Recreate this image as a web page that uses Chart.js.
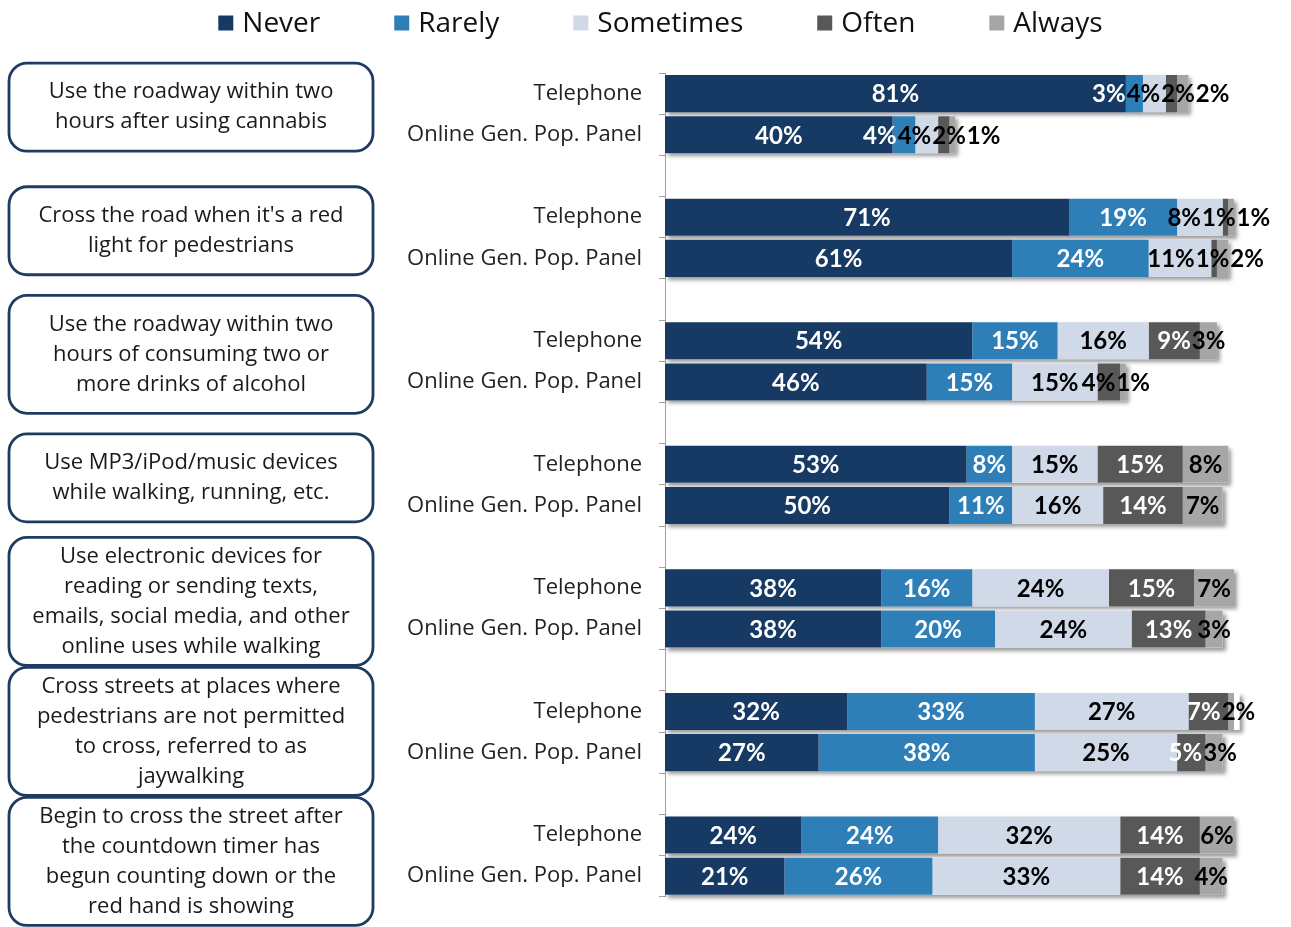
<!DOCTYPE html>
<html>
<head>
<meta charset="utf-8">
<script src="https://cdn.jsdelivr.net/npm/chart.js@4.4.1/dist/chart.umd.min.js"></script>
<style>
    html, body { margin: 0; padding: 0; background: #fff; }
    #wrap { position: relative; width: 1291px; height: 927px; }
</style>
</head>
<body>
<div id="wrap"><canvas id="chart"></canvas></div>
<script>
// Fragen (links in den Kästen)
const questions = [
    ['Use the roadway within two', 'hours after using cannabis'],
    ["Cross the road when it's a red", 'light for pedestrians'],
    ['Use the roadway within two', 'hours of consuming two or', 'more drinks of alcohol'],
    ['Use MP3/iPod/music devices', 'while walking, running, etc.'],
    ['Use electronic devices for', 'reading or sending texts,', 'emails, social media, and other', 'online uses while walking'],
    ['Cross streets at places where', 'pedestrians are not permitted', 'to cross, referred to as', 'jaywalking'],
    ['Begin to cross the street after', 'the countdown timer has', 'begun counting down or the', 'red hand is showing']
];
const surveys = ['Telephone', 'Online Gen. Pop. Panel'];
const answers = ['Never', 'Rarely', 'Sometimes', 'Often', 'Always'];

// Prozentwerte je Antwort: [Telephone, Online] pro Frage
const never     = [[81, 40], [71, 61], [54, 46], [53, 50], [38, 38], [32, 27], [24, 21]];
const rarely    = [[3, 4],   [19, 24], [15, 15], [8, 11],  [16, 20], [33, 38], [24, 26]];
const sometimes = [[4, 4],   [8, 11],  [16, 15], [15, 16], [24, 24], [27, 25], [32, 33]];
const often     = [[2, 2],   [1, 1],   [9, 4],   [15, 14], [15, 13], [7, 5],   [14, 14]];
const always    = [[2, 1],   [1, 2],   [3, 1],   [8, 7],   [7, 3],   [2, 3],   [6, 4]];

const colors = ['#163A63', '#2E7EB8', '#D0D9E7', '#585858', '#A6A6A6'];

// Zeilen aufbauen: Telephone, Online, Leerzeile zwischen den Fragen
const rowLabels = [];
questions.forEach((q, i) => {
    rowLabels.push(...surveys);
    if (i < questions.length - 1) rowLabels.push('');
});

function toRows(series) {
    const out = [];
    series.forEach((pair, i) => {
        out.push(...pair);
        if (i < series.length - 1) out.push(null);
    });
    return out;
}

const datasets = [never, rarely, sometimes, often, always].map((s, i) => ({
    label: answers[i],
    data: toRows(s),
    backgroundColor: colors[i],
    borderWidth: 0,
    categoryPercentage: 0.9,
    barPercentage: 1.0
}));

// Schriftfarbe der Beschriftung je Segment
function labelColor(datasetIndex, value) {
    if (datasetIndex <= 1) return '#ffffff';
    if (datasetIndex === 3) return value >= 5 ? '#ffffff' : '#000000';
    return '#000000';
}

// Überlappende Beschriftungen zu Gruppen zusammenfassen und um ihre Mitte verteilen
function spreadLabels(items, gap) {
    let groups = items.map(it => ({ items: [it], width: it.w, center: it.cx }));
    let merged = true;
    while (merged) {
        merged = false;
        for (let k = 1; k < groups.length; k++) {
            const a = groups[k - 1], b = groups[k];
            if (a.center + a.width / 2 + gap > b.center - b.width / 2) {
                const all = a.items.concat(b.items);
                const width = all.reduce((s, it) => s + it.w, 0) + gap * (all.length - 1);
                const center = all.reduce((s, it) => s + it.cx, 0) / all.length;
                groups.splice(k - 1, 2, { items: all, width: width, center: center });
                merged = true;
                break;
            }
        }
    }
    groups.forEach(g => {
        let x = g.center - g.width / 2;
        g.items.forEach(it => {
            it.x = x + it.w / 2;
            x += it.w + gap;
        });
    });
}

// Schatten unter jedem ganzen Balken + Prozentwerte
const barDecor = {
    id: 'barDecor',
    beforeDatasetsDraw(chart) {
        const ctx = chart.ctx;
        const metas = chart.data.datasets.map((_, d) => chart.getDatasetMeta(d));
        ctx.save();
        ctx.shadowColor = 'rgba(0, 0, 0, 0.4)';
        ctx.shadowBlur = 4;
        ctx.shadowOffsetX = 3;
        ctx.shadowOffsetY = 3;
        ctx.fillStyle = '#ffffff';
        chart.data.labels.forEach((_, i) => {
            if (chart.data.datasets[0].data[i] == null) return;
            const first = metas[0].data[i];
            const last = metas[metas.length - 1].data[i];
            const h = first.height;
            ctx.fillRect(first.base, first.y - h / 2, last.x - first.base, h);
        });
        ctx.restore();
    },
    afterDatasetsDraw(chart) {
        const ctx = chart.ctx;
        ctx.save();
        ctx.font = 'bold 24px Lato';
        ctx.textBaseline = 'middle';
        ctx.textAlign = 'center';
        chart.data.labels.forEach((_, i) => {
            const items = [];
            chart.data.datasets.forEach((ds, d) => {
                const v = ds.data[i];
                if (v == null) return;
                const bar = chart.getDatasetMeta(d).data[i];
                const text = v + '%';
                items.push({
                    text: text,
                    w: ctx.measureText(text).width,
                    cx: (bar.base + bar.x) / 2,
                    y: bar.y,
                    color: labelColor(d, v)
                });
            });
            if (!items.length) return;
            spreadLabels(items, 1);
            items.forEach(it => {
                ctx.fillStyle = it.color;
                ctx.fillText(it.text, it.x, it.y + 1);
            });
        });
        ctx.restore();
    }
};

// Kästen mit den Fragen links
const questionBoxes = {
    id: 'questionBoxes',
    afterDraw(chart) {
        const ctx = chart.ctx;
        const y = chart.scales.y;
        let prevBottom = -Infinity;
        ctx.save();
        questions.forEach((lines, g) => {
            const yT = y.getPixelForValue(g * 3);
            const yO = y.getPixelForValue(g * 3 + 1);
            const center = (yT + yO) / 2 - 7;
            const h = Math.min(lines.length * 30 + 28, 128);
            // Kästen dürfen sich nicht überlappen
            const top = Math.max(center - h / 2, prevBottom + 2);
            prevBottom = top + h;
            ctx.beginPath();
            ctx.roundRect(9, top, 364, h, 18);
            ctx.lineWidth = 2.8;
            ctx.strokeStyle = '#1F3B61';
            ctx.stroke();
            ctx.fillStyle = '#1a1a1a';
            ctx.font = '22px "Open Sans"';
            ctx.textAlign = 'center';
            ctx.textBaseline = 'middle';
            const start = top + (h - lines.length * 30) / 2 + 15;
            lines.forEach((t, k) => ctx.fillText(t, 191, start + k * 30));
        });
        ctx.restore();
    }
};

// Legende oben
const topLegend = {
    id: 'topLegend',
    afterDraw(chart) {
        const ctx = chart.ctx;
        ctx.save();
        ctx.font = '28px "Open Sans"';
        ctx.textBaseline = 'middle';
        ctx.textAlign = 'left';
        const box = 15, gapText = 9, gapItem = 74;
        const items = chart.data.datasets.map(ds => ({
            label: ds.label,
            color: ds.backgroundColor,
            w: box + gapText + ctx.measureText(ds.label).width
        }));
        const total = items.reduce((s, it) => s + it.w, 0) + gapItem * (items.length - 1);
        let x = chart.width / 2 + 15 - total / 2;
        const yc = 23;
        items.forEach(it => {
            ctx.fillStyle = it.color;
            ctx.fillRect(x, yc - box / 2, box, box);
            ctx.fillStyle = '#111';
            ctx.fillText(it.label, x + box + gapText, yc + 1);
            x += it.w + gapItem;
        });
        ctx.restore();
    }
};

new Chart(document.getElementById('chart'), {
    type: 'bar',
    data: { labels: rowLabels, datasets: datasets },
    options: {
        indexAxis: 'y',
        responsive: true,
        maintainAspectRatio: false,
        animation: false,
        layout: { padding: { top: 73, right: 57, bottom: 25, left: 0 } },
        plugins: {
            legend: { display: false },
            tooltip: { enabled: false }
        },
        scales: {
            x: {
                stacked: true,
                min: 0,
                max: 100,
                display: false
            },
            y: {
                stacked: true,
                afterFit(scale) { scale.width = 665; },
                grid: {
                    drawOnChartArea: false,
                    drawTicks: true,
                    tickLength: 6,
                    color: '#A0A0A0'
                },
                border: { color: '#A0A0A0', width: 1 },
                ticks: {
                    autoSkip: false,
                    padding: 17,
                    color: '#222',
                    font: { family: 'Open Sans', size: 22 }
                }
            }
        }
    },
    plugins: [barDecor, questionBoxes, topLegend]
});
</script>
</body>
</html>
